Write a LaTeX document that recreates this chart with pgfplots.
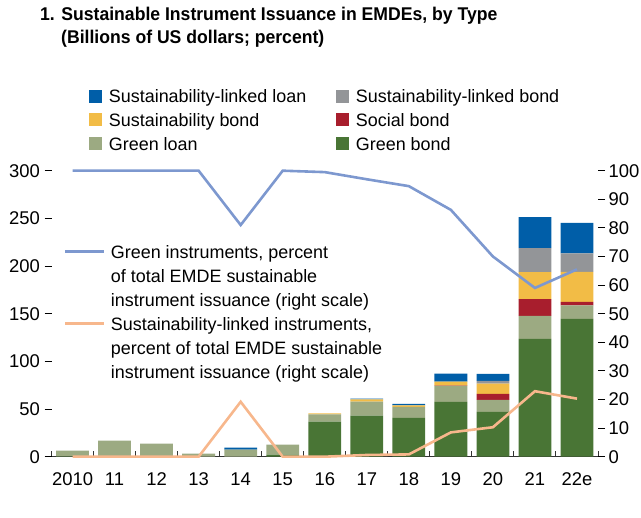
\documentclass[border=0pt]{standalone}
\usepackage{fontspec}
\setmainfont{Liberation Sans}
\usepackage{graphicx}
\usepackage{pgfplots}
\usepackage{pgfplotstable}
\pgfplotsset{compat=1.18}

\definecolor{sll}{RGB}{0,94,168}
\definecolor{slb}{RGB}{147,149,152}
\definecolor{sbd}{RGB}{242,188,70}
\definecolor{soc}{RGB}{168,30,45}
\definecolor{gln}{RGB}{156,170,130}
\definecolor{gbd}{RGB}{73,117,53}
\definecolor{gline}{RGB}{125,152,207}
\definecolor{oline}{RGB}{247,183,140}

\pgfplotstableread{
x GB GL SOC SB SLB SLL
0 0.3 6.0 0 0 0 0
1 0 16.8 0 0 0 0
2 0 13.6 0 0 0 0
3 0 3.1 0 0 0 0
4 0 7.3 0 0 0 2.1
5 2.1 10.5 0 0 0 0
6 36.7 7.8 0 1.0 0 0
7 43.0 14.7 0 2.5 0 0.8
8 40.6 11.6 0 1.7 0 1.4
9 57.4 16.8 0.3 4.2 0 8.4
10 46.9 12.6 6.3 10.8 3.0 7.2
11 123.5 24.1 17.8 28.3 25.2 32.5
12 144.5 14.3 3.5 31.5 19.6 31.8
}\bars

\pgfplotstableread{
x G S
0 100 0
1 100 0
2 100 0
3 100 0
4 81 19.2
5 100 0
6 99.5 0
7 97 0.6
8 94.6 0.8
9 86.3 8.5
10 70 10.3
11 59 22.9
12 65.5 20.3
}\lines

\begin{document}
\begin{tikzpicture}
\useasboundingbox (0,0) rectangle (641bp,518bp);
\node[anchor=base west, inner sep=0pt, font=\bfseries\fontsize{18.5}{22}\selectfont] at (40bp,497.3bp) {\scalebox{0.955}[1]{1. Sustainable Instrument Issuance in EMDEs, by Type}};
\node[anchor=base west, inner sep=0pt, font=\bfseries\fontsize{18.5}{22}\selectfont] at (61bp,474bp) {\scalebox{0.955}[1]{(Billions of US dollars; percent)}};

\begin{axis}[
  at={(51.5bp,61.3bp)}, anchor=south west,
  scale only axis, width=546.5bp, height=286bp,
  xmin=-0.5, xmax=12.5, ymin=0, ymax=300,
  ybar stacked, bar width=0.78,
  axis x line*=bottom, axis y line*=left,
  x axis line style={black!80, line width=1.2bp, -},
  y axis line style={draw=none},
  xtick={0,...,12},
  xticklabels={2010,11,12,13,14,15,16,17,18,19,20,21,22e},
  minor xtick={-0.5,0.5,...,12.5},
  major x tick style={draw=none},
  minor x tick style={black!80, line width=1bp},
  xtick align=inside, ytick align=outside,
  major tick length=7bp, minor tick length=6bp,
  ytick={0,50,...,300},
  y tick style={black, line width=1bp},
  tick label style={font=\fontsize{18.5}{22}\selectfont},
  /pgf/number format/assume math mode=true,
  yticklabel style={inner xsep=4.5bp},
  xticklabel style={inner ysep=16bp},
  legend columns=2,
  legend cell align=left,
  legend image code/.code={\fill[#1] (0bp,-6.5bp) rectangle (13bp,6.5bp);},
  legend style={at={(axis description cs:0.0692,1.3028)}, anchor=north west,
    draw=none, fill=none, inner sep=0pt, outer sep=0pt,
    font=\fontsize{18}{24}\selectfont,
    nodes={inner xsep=3.3bp, inner ysep=0pt, text height=18.3bp, text depth=5.5bp},
    /tikz/every odd column/.append style={column sep=3.3bp},
    /tikz/every even column/.append style={column sep=26.7bp}},
]
\addplot[fill=gbd, draw=none, forget plot] table[x=x, y=GB] {\bars};
\addplot[fill=gln, draw=none, forget plot] table[x=x, y=GL] {\bars};
\addplot[fill=soc, draw=none, forget plot] table[x=x, y=SOC] {\bars};
\addplot[fill=sbd, draw=none, forget plot] table[x=x, y=SB] {\bars};
\addplot[fill=slb, draw=none, forget plot] table[x=x, y=SLB] {\bars};
\addplot[fill=sll, draw=none, forget plot] table[x=x, y=SLL] {\bars};
\addlegendimage{fill=sll, draw=none}\addlegendentry{Sustainability-linked loan}
\addlegendimage{fill=slb, draw=none}\addlegendentry{Sustainability-linked bond}
\addlegendimage{fill=sbd, draw=none}\addlegendentry{Sustainability bond}
\addlegendimage{fill=soc, draw=none}\addlegendentry{Social bond}
\addlegendimage{fill=gln, draw=none}\addlegendentry{Green loan}
\addlegendimage{fill=gbd, draw=none}\addlegendentry{Green bond}
\end{axis}

\begin{axis}[
  at={(51.5bp,61.3bp)}, anchor=south west,
  scale only axis, width=546.5bp, height=286bp,
  xmin=-0.5, xmax=12.5, ymin=0, ymax=100,
  clip=false,
  hide x axis,
  axis y line*=right,
  y axis line style={draw=none},
  ytick={0,10,...,100},
  ytick align=outside,
  major tick length=7bp,
  y tick style={black, line width=1bp},
  tick label style={font=\fontsize{18.5}{22}\selectfont},
  /pgf/number format/assume math mode=true,
  yticklabel style={inner xsep=3.5bp},
  legend cell align=left,
  legend image code/.code={\draw[#1] (0bp,0bp) -- (39bp,0bp);},
  legend style={at={(axis description cs:0.0229,0.759)}, anchor=north west,
    draw=none, fill=none, inner sep=0pt, outer sep=0pt,
    font=\fontsize{18}{24}\selectfont,
    nodes={inner xsep=3.3bp, inner ysep=0pt, text height=18.4bp, text depth=5.6bp},
    /tikz/every odd column/.append style={column sep=2bp}},
]
\addplot[gline, line width=2.6bp, forget plot] table[x=x, y=G] {\lines};
\addplot[oline, line width=2.6bp, forget plot] table[x=x, y=S] {\lines};
\addlegendimage{gline, line width=2.6bp}\addlegendentry{Green instruments, percent}
\addlegendimage{legend image code/.code={}}\addlegendentry{of total EMDE sustainable}
\addlegendimage{legend image code/.code={}}\addlegendentry{instrument issuance (right scale)}
\addlegendimage{oline, line width=2.6bp}\addlegendentry{Sustainability-linked instruments,}
\addlegendimage{legend image code/.code={}}\addlegendentry{percent of total EMDE sustainable}
\addlegendimage{legend image code/.code={}}\addlegendentry{instrument issuance (right scale)}
\end{axis}
\end{tikzpicture}
\end{document}
